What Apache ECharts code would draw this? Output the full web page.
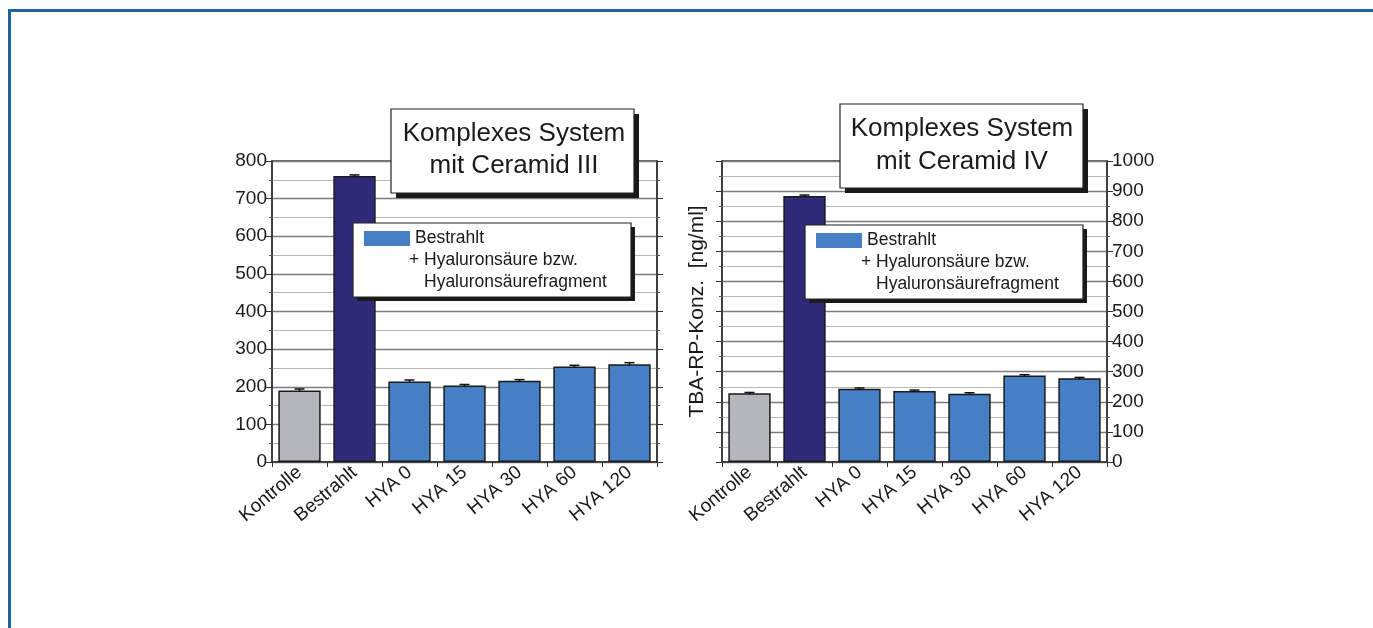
<!DOCTYPE html>
<html>
<head>
<meta charset="utf-8">
<script src="https://cdn.jsdelivr.net/npm/echarts@6/dist/echarts.min.js"></script>
<style>
  html, body { margin: 0; padding: 0; background: #fff; }
  #main { width: 1373px; height: 628px; }
</style>
</head>
<body>
<div id="main"></div>
<script>
var categories = ['Kontrolle', 'Bestrahlt', 'HYA 0', 'HYA 15', 'HYA 30', 'HYA 60', 'HYA 120'];
var ceramid3 = [190, 760, 214, 203, 216, 254, 260];
var ceramid3Err = [4, 3, 4, 3, 3, 3, 4];
var ceramid4 = [228, 884, 243, 236, 227, 287, 278];
var ceramid4Err = [3, 3, 3, 3, 3, 3, 3];
var barColors = ['#b4b6bb', '#2f2b79', '#4580c6', '#4580c6', '#4580c6', '#4580c6', '#4580c6'];

var FONT = '"Liberation Sans", Arial, sans-serif';

function coloured(values) {
    return values.map(function (v, i) {
        return { value: v, itemStyle: { color: barColors[i] } };
    });
}

function errorData(values, errs) {
    return values.map(function (v, i) { return [i, v - errs[i], v + errs[i]]; });
}

function renderError(params, api) {
    var lo = api.coord([api.value(0), api.value(1)]);
    var hi = api.coord([api.value(0), api.value(2)]);
    var half = 5;
    var style = { stroke: '#111', lineWidth: 1.5 };
    return {
        type: 'group',
        children: [
            { type: 'line', shape: { x1: hi[0], y1: hi[1], x2: lo[0], y2: lo[1] }, style: style },
            { type: 'line', shape: { x1: hi[0] - half, y1: hi[1], x2: hi[0] + half, y2: hi[1] }, style: style }
        ]
    };
}

function boxWithShadow(x, y, w, h, off) {
    return [
        { type: 'rect', shape: { x: x + off, y: y + off, width: w, height: h }, style: { fill: '#1a1a1a' }, z: 100 },
        { type: 'rect', shape: { x: x, y: y, width: w, height: h }, style: { fill: '#fff', stroke: '#222', lineWidth: 1.2 }, z: 101 }
    ];
}

function txt(x, y, s, size, align) {
    return {
        type: 'text', x: x, y: y, z: 102,
        style: { text: s, fill: '#1a1a1a', font: size + 'px ' + FONT, align: align || 'left', verticalAlign: 'middle' }
    };
}

var xAxisBase = {
    type: 'category',
    data: categories,
    axisLine: { lineStyle: { color: '#333', width: 1.5 } },
    axisTick: { show: true, length: 5, lineStyle: { color: '#333' } },
    axisLabel: { rotate: 40, fontSize: 19, color: '#1a1a1a', fontFamily: FONT, margin: 8 }
};

var splitMajor = { show: true, lineStyle: { color: '#7d7d7d', width: 1.3 } };
var splitMinor = { show: true, lineStyle: { color: '#b8b8b8', width: 1 } };

function sideAxis(grid, max, pos, withLabels) {
    return {
        gridIndex: grid, type: 'value', min: 0, max: max, interval: 100, position: pos,
        axisLine: { show: true, lineStyle: { color: '#333', width: 1.5 } },
        axisTick: { show: true, length: 6, lineStyle: { color: '#333' } },
        minorTick: { show: true, splitNumber: 2, length: 3, lineStyle: { color: '#555' } },
        axisLabel: { show: withLabels, fontSize: 19, color: '#1a1a1a', fontFamily: FONT, margin: 5,
            formatter: function (v) { return String(v); } },
        splitLine: withLabels ? splitMajor : { show: false },
        minorSplitLine: withLabels ? splitMinor : { show: false }
    };
}

var graphics = [
    { type: 'rect', shape: { x: 8, y: 9, width: 1365, height: 3 }, style: { fill: '#1b679a' }, z: 200 },
    { type: 'rect', shape: { x: 8, y: 9, width: 3, height: 619 }, style: { fill: '#1b679a' }, z: 200 }
];
graphics = graphics
    .concat(boxWithShadow(391, 109, 243, 84, 5))
    .concat([txt(514, 134, 'Komplexes System', 26, 'center'), txt(514, 166, 'mit Ceramid III', 26, 'center')])
    .concat(boxWithShadow(353, 223, 278, 74, 4))
    .concat([
        { type: 'rect', shape: { x: 364, y: 231, width: 46, height: 15 }, style: { fill: '#4580c6' }, z: 102 },
        txt(415, 238, 'Bestrahlt', 17.5),
        txt(409, 260, '+ Hyaluronsäure bzw.', 17.5),
        txt(424, 282, 'Hyaluronsäurefragment', 17.5)
    ])
    .concat(boxWithShadow(840, 104, 243, 84, 5))
    .concat([txt(962, 129, 'Komplexes System', 26, 'center'), txt(962, 162, 'mit Ceramid IV', 26, 'center')])
    .concat(boxWithShadow(805, 225, 278, 74, 4))
    .concat([
        { type: 'rect', shape: { x: 816, y: 233, width: 46, height: 15 }, style: { fill: '#4580c6' }, z: 102 },
        txt(867, 240, 'Bestrahlt', 17.5),
        txt(861, 262, '+ Hyaluronsäure bzw.', 17.5),
        txt(876, 284, 'Hyaluronsäurefragment', 17.5)
    ]);

var chart = echarts.init(document.getElementById('main'), null, { renderer: 'canvas' });

var leftOfGrid2 = sideAxis(1, 1000, 'left', false);
leftOfGrid2.name = 'TBA-RP-Konz.  [ng/ml]';
leftOfGrid2.nameLocation = 'middle';
leftOfGrid2.nameGap = 14;
leftOfGrid2.nameTextStyle = { fontSize: 21, color: '#1a1a1a', fontFamily: FONT };

var option = {
    backgroundColor: '#fff',
    animation: false,
    textStyle: { fontFamily: FONT },
    grid: [
        { left: 272, right: 716, top: 161, bottom: 166, show: true, borderColor: '#333', borderWidth: 1.5 },
        { left: 722, right: 266, top: 161, bottom: 166, show: true, borderColor: '#333', borderWidth: 1.5 }
    ],
    xAxis: [
        Object.assign({ gridIndex: 0 }, xAxisBase),
        Object.assign({ gridIndex: 1 }, xAxisBase)
    ],
    yAxis: [
        sideAxis(0, 800, 'left', true),
        sideAxis(1, 1000, 'right', true),
        leftOfGrid2,
        sideAxis(0, 800, 'right', false)
    ],
    series: [
        {
            type: 'bar', xAxisIndex: 0, yAxisIndex: 0, barWidth: '77%',
            itemStyle: { borderColor: '#1a1a1a', borderWidth: 1.5 },
            data: coloured(ceramid3), z: 3
        },
        {
            type: 'custom', xAxisIndex: 0, yAxisIndex: 0, renderItem: renderError,
            encode: { x: 0, y: [1, 2] }, data: errorData(ceramid3, ceramid3Err), z: 4
        },
        {
            type: 'bar', xAxisIndex: 1, yAxisIndex: 1, barWidth: '77%',
            itemStyle: { borderColor: '#1a1a1a', borderWidth: 1.5 },
            data: coloured(ceramid4), z: 3
        },
        {
            type: 'custom', xAxisIndex: 1, yAxisIndex: 1, renderItem: renderError,
            encode: { x: 0, y: [1, 2] }, data: errorData(ceramid4, ceramid4Err), z: 4
        }
    ],
    graphic: graphics
};

chart.setOption(option);
</script>
</body>
</html>
